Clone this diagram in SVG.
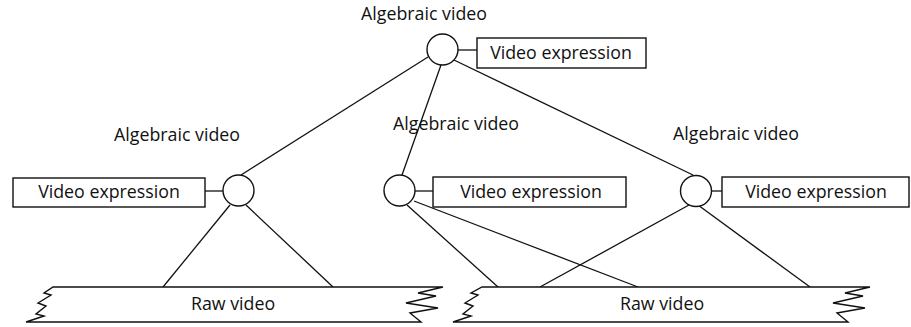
<svg xmlns="http://www.w3.org/2000/svg" width="911" height="327" viewBox="0 0 911 327">
<style>
.ln{stroke:#111;stroke-width:1.3;fill:none}
.nd{stroke:#111;stroke-width:1.4;fill:#fff}
.t{font-family:"Open Sans","Liberation Sans",sans-serif;font-size:17.8px;fill:#111;text-anchor:middle}
</style>
<rect width="911" height="327" fill="#fff"/>
<g id="connectors">
<line class="ln" x1="428" y1="57" x2="241" y2="175"/>
<line class="ln" x1="441" y1="65" x2="402" y2="175"/>
<line class="ln" x1="454" y1="60" x2="693" y2="175"/>
<line class="ln" x1="458" y1="50" x2="477" y2="50"/>
<line class="ln" x1="205" y1="191" x2="223" y2="191"/>
<line class="ln" x1="415" y1="191" x2="433" y2="191"/>
<line class="ln" x1="712" y1="191" x2="722" y2="191"/>
<line class="ln" x1="230" y1="205" x2="163" y2="287"/>
<line class="ln" x1="246" y1="205" x2="333" y2="287"/>
<line class="ln" x1="407" y1="205" x2="498" y2="287"/>
<line class="ln" x1="414" y1="201" x2="638" y2="287"/>
<line class="ln" x1="689" y1="205" x2="540" y2="287"/>
<line class="ln" x1="698" y1="205" x2="810" y2="287"/>
</g>
<g id="top">
<text class="t" x="424" y="20">Algebraic video</text>
<circle class="nd" cx="442.5" cy="49.5" r="15.5"/>
<rect class="nd" x="477" y="38" width="169" height="30"/>
<text class="t" x="561" y="59">Video expression</text>
</g>
<g id="left">
<text class="t" x="177" y="141">Algebraic video</text>
<circle class="nd" cx="238.5" cy="190.5" r="15.5"/>
<rect class="nd" x="13" y="178" width="192" height="29"/>
<text class="t" x="109" y="198">Video expression</text>
</g>
<g id="middle">
<text class="t" x="456" y="130">Algebraic video</text>
<circle class="nd" cx="399.5" cy="190.5" r="15.5"/>
<rect class="nd" x="433" y="177" width="193" height="30"/>
<text class="t" x="531" y="198">Video expression</text>
</g>
<g id="right">
<text class="t" x="736" y="140">Algebraic video</text>
<circle class="nd" cx="696" cy="191" r="15.5"/>
<rect class="nd" x="722" y="177" width="187" height="30"/>
<text class="t" x="816" y="198">Video expression</text>
</g>
<g id="raw1">
<path class="nd" d="M53,287 L443,287 L418,293 L436,296 L406,303 L438,308 L410,313 L421,322 L26,322 L44,316 L36,314 L46,306 L38,303 L51,295 L44,293 Z"/>
<text class="t" x="233" y="310">Raw video</text>
</g>
<g id="raw2">
<path class="nd" d="M482,287 L870,287 L845,293 L863,296 L833,303 L865,308 L837,313 L848,322 L453,322 L471,316 L463,314 L473,306 L465,303 L478,295 L471,293 Z"/>
<text class="t" x="662" y="310">Raw video</text>
</g>
</svg>
